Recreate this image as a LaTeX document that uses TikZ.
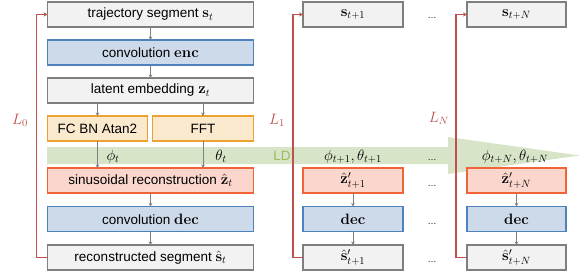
\RequirePackage{fix-cm}
\documentclass[tikz,border=0pt]{standalone}
\usepackage{amsmath,amssymb}
\usepackage[no-math]{fontspec}
\setmainfont{Liberation Sans}
\usepackage{tikz}
\usetikzlibrary{arrows.meta,positioning}
\DeclareMathSizes{13.5}{15}{10.5}{8}
\definecolor{dGray}{RGB}{127,127,127}
\definecolor{dGrayFill}{RGB}{242,242,242}
\definecolor{dBlue}{RGB}{79,129,189}
\definecolor{dBlueFill}{RGB}{205,218,234}
\definecolor{dAmber}{RGB}{235,162,48}
\definecolor{dAmberFill}{RGB}{251,233,206}
\definecolor{dCoral}{RGB}{240,100,55}
\definecolor{dCoralFill}{RGB}{250,214,204}
\definecolor{dLoss}{RGB}{192,80,77}
\definecolor{dLD}{RGB}{155,187,89}
\definecolor{dLDFill}{RGB}{216,228,200}

\begin{document}
\begin{tikzpicture}[
					x=1pt,y=-1pt,
					>=Stealth,
					blk/.style={
						rectangle,
						line width=1.5pt,
						minimum height=25pt,
						inner sep=1pt,
						outer sep=0pt,
						align=center,
						font=\fontsize{13.5}{15}\selectfont
					},
					gbox/.style={blk,draw=dGray,fill=dGrayFill},
					bbox/.style={blk,draw=dBlue,fill=dBlueFill},
					abox/.style={blk,draw=dAmber,fill=dAmberFill},
					cbox/.style={blk,draw=dCoral,fill=dCoralFill},
					flow/.style={->,draw=dGray,line width=0.8pt,>={Stealth[length=3.5pt,width=3.5pt]}},
					loss/.style={->,draw=dLoss,line width=1.3pt,>={Stealth[length=4pt,width=4pt]}},
					lbl/.style={font=\fontsize{13.5}{15}\selectfont,inner sep=1pt},
					dotlbl/.style={font=\fontsize{9}{10}\selectfont,inner sep=0pt,anchor=base}
					]
					\useasboundingbox (0,0) rectangle (581,273);
					\fill[dLDFill] (47,147) -- (448,147) -- (448,137) -- (580,155.5) -- (448,174) -- (448,164) -- (47,164) -- cycle;
					
					\node[gbox,minimum width=206pt] (s0) at (150.5,14.5) {trajectory segment $\mathbf{s}_t$};
					\node[bbox,minimum width=206pt,below=13pt of s0] (enc) {convolution $\mathbf{enc}$};
					\node[gbox,minimum width=206pt,below=13pt of enc] (z0) {latent embedding $\mathbf{z}_t$};
					\node[abox,minimum width=100pt,below=13pt of z0.south west,anchor=north west] (fc) {FC BN Atan2};
					\node[abox,minimum width=101pt,below=13pt of z0.south east,anchor=north east] (fft) {FFT};
					\node[cbox,minimum width=206pt,below=65pt of z0] (sin) {sinusoidal reconstruction $\hat{\mathbf{z}}_t$};
					\node[bbox,minimum width=206pt,below=13.5pt of sin] (dec) {convolution $\mathbf{dec}$};
					\node[gbox,minimum width=206pt,below=13.5pt of dec] (hs0) {reconstructed segment $\hat{\mathbf{s}}_t$};
					
					\node[gbox,minimum width=100pt] (s1) at (353,14.5) {$\mathbf{s}_{t+1}$};
					\node[cbox,minimum width=100pt,right=49.5pt of sin] (z1) {$\hat{\mathbf{z}}'_{t+1}$};
					\node[bbox,minimum width=100pt,right=49.5pt of dec] (d1) {$\mathbf{dec}$};
					\node[gbox,minimum width=100pt,right=49.5pt of hs0] (hs1) {$\hat{\mathbf{s}}'_{t+1}$};
					
					\node[gbox,minimum width=99pt,right=64pt of s1] (sN) {$\mathbf{s}_{t+N}$};
					\node[cbox,minimum width=99pt,right=64pt of z1] (zN) {$\hat{\mathbf{z}}'_{t+N}$};
					\node[bbox,minimum width=99pt,right=64pt of d1] (dN) {$\mathbf{dec}$};
					\node[gbox,minimum width=99pt,right=64pt of hs1] (hsN) {$\hat{\mathbf{s}}'_{t+N}$};
					
					\node[dotlbl] (e0) at (432,19) {\dots};
					\node[dotlbl] (e1) at (432,160) {\dots};
					\node[dotlbl] (e2) at (432,186) {\dots};
					\node[dotlbl] (e3) at (432,224) {\dots};
					\node[dotlbl] (e4) at (432,262) {\dots};
					
					\node[lbl] (phi0) at (113,156.5) {$\phi_t$};
					\node[lbl] (theta0) at (221,156.5) {$\theta_t$};
					\node[lbl,text=dLD] (ld) at (282,156) {LD};
					\node[lbl] (pt1) at (353,156.5) {$\phi_{t+1},\theta_{t+1}$};
					\node[lbl] (ptN) at (515,156.5) {$\phi_{t+N},\theta_{t+N}$};
					
					\node[lbl,text=dLoss] (l0) at (20,120) {$L_0$};
					\node[lbl,text=dLoss] (l1) at (277,120) {$L_1$};
					\node[lbl,text=dLoss] (lN) at (439,118) {$L_N$};
					
					\draw[flow] (s0) -- (enc);
					\draw[flow] (enc) -- (z0);
					\draw[flow] (z0.south -| fc) -- (fc);
					\draw[flow] (z0.south -| fft) -- (fft);
					\draw[flow] (fc) -- (fc |- sin.north);
					\draw[flow] (fft) -- (fft |- sin.north);
					\draw[flow] (sin) -- (dec);
					\draw[flow] (dec) -- (hs0);
					\draw[flow] (z1) -- (d1);
					\draw[flow] (d1) -- (hs1);
					\draw[flow] (zN) -- (dN);
					\draw[flow] (dN) -- (hsN);
					
					\draw[loss] (hs0.west) -- ++(-11,0) |- (s0.west);
					\draw[loss] (hs1.west) -- ++(-10,0) |- (s1.west);
					\draw[loss] (hsN.west) -- ++(-11,0) |- (sN.west);
				\end{tikzpicture}
\end{document}
